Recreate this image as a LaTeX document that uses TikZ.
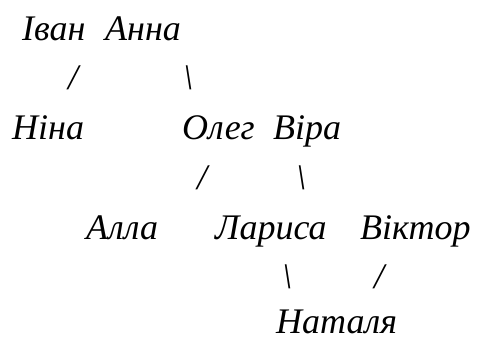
\documentclass[tikz,border=0pt]{standalone}
\usepackage{fontspec}
\setmainfont{Liberation Serif}
\begin{document}
\begin{tikzpicture}[x=1pt,y=1pt,
  person/.style={anchor=base west, inner sep=0pt, text depth=0pt, font=\fontsize{36}{40}\selectfont\itshape},
  link/.style={anchor=base west, inner sep=0pt, font=\fontsize{36}{40}\selectfont\itshape}]
\useasboundingbox (0,0) rectangle (479,338);
% row 1
\node[person] (ivan) at (22,{338-41}) {Іван};
\node[person] (anna) at (105,{338-41}) {Анна};
% row 2
\node[link] (s1) at (68,{338-90}) {/};
\node[link] (s2) at (183,{338-90}) {\textbackslash};
% row 3
\node[person] (nina) at (12,{338-139}) {Ніна};
\node[person] (oleh) at (182,{338-139}) {Олег};
\node[person] (vira) at (273,{338-139}) {Віра};
% row 4
\node[link] (s3) at (197,{338-189}) {/};
\node[link] (s4) at (296,{338-189}) {\textbackslash};
% row 5
\node[person] (alla) at (86,{338-239}) {Алла};
\node[person] (larysa) at (215,{338-239}) {Лариса};
\node[person] (viktor) at (360,{338-239}) {Віктор};
% row 6
\node[link] (s5) at (282,{338-288}) {\textbackslash};
\node[link] (s6) at (374,{338-288}) {/};
% row 7
\node[person] (natalia) at (276,{338-333}) {Наталя};
\end{tikzpicture}
\end{document}
